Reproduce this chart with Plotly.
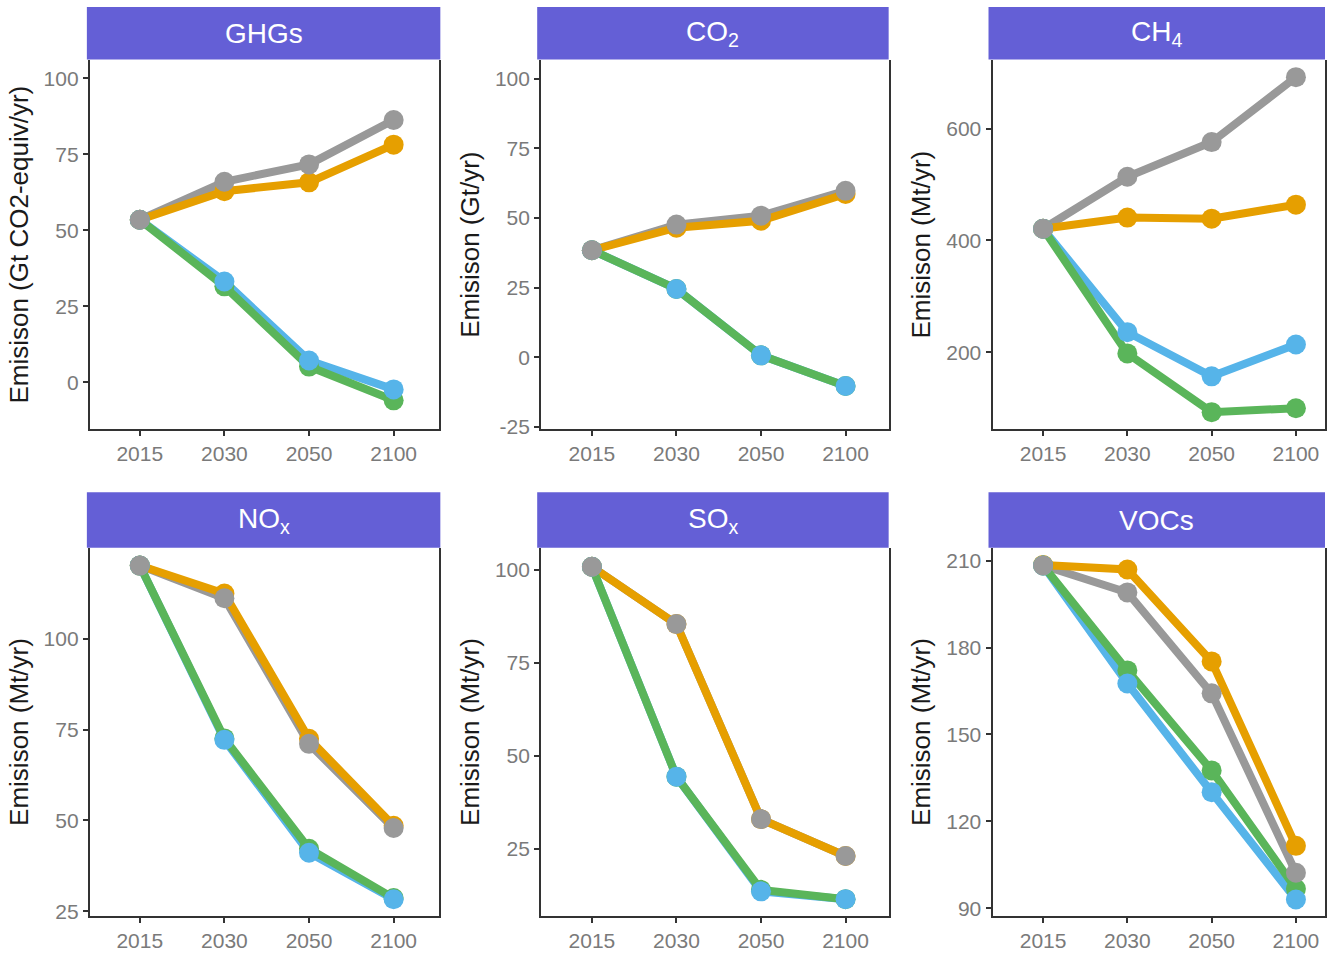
import plotly.graph_objects as go

years = ["2015", "2030", "2050", "2100"]
panels = ["GHGs", "CO<sub>2</sub>", "CH<sub>4</sub>", "NO<sub>x</sub>", "SO<sub>x</sub>", "VOCs"]
ytitles = ["Emisison (Gt CO2-equiv/yr)", "Emisison (Gt/yr)", "Emisison (Mt/yr)",
           "Emisison (Mt/yr)", "Emisison (Mt/yr)", "Emisison (Mt/yr)"]

# series values per panel
gray = [
    [53.5, 66.0, 71.7, 86.3],
    [38.4, 47.6, 50.8, 59.7],
    [421, 514, 576, 692],
    [120.2, 111.2, 71.1, 47.9],
    [100.8, 85.4, 33.0, 23.1],
    [208.3, 199.0, 164.2, 102.3],
]
orange = [
    [53.5, 62.9, 65.8, 78.2],
    [38.4, 46.5, 49.0, 58.6],
    [421, 441, 439, 464],
    [120.2, 112.5, 72.5, 48.5],
    [100.8, 85.4, 33.0, 23.1],
    [208.5, 206.9, 175.2, 111.6],
]
blue = [
    [53.5, 33.2, 7.2, -2.3],
    [38.4, 24.5, 0.7, -10.3],
    [421, 236, 157, 214],
    [120.2, 72.2, 41.1, 28.3],
    [100.8, 44.4, 13.6, 11.5],
    [208.3, 167.6, 130.1, 93.1],
]
green = [
    [53.5, 31.6, 5.2, -5.9],
    [38.4, 24.5, 0.7, -10.3],
    [421, 198, 93, 100],
    [120.2, 72.6, 42.2, 28.6],
    [100.8, 44.4, 14.0, 11.5],
    [208.3, 172.1, 137.6, 96.8],
]
yticks = [
    [0, 25, 50, 75, 100],
    [-25, 0, 25, 50, 75, 100],
    [200, 400, 600],
    [25, 50, 75, 100],
    [25, 50, 75, 100],
    [90, 120, 150, 180, 210],
]
yranges = [[-15.3, 105.9], [-25.7, 106.5], [63, 722], [23.6, 125.1], [6.9, 105.9], [87.3, 214.4]]

C_GRAY = "#999999"
C_ORANGE = "#E69F00"
C_BLUE = "#56B4E9"
C_GREEN = "#5AB55A"
HEADER = "#645FD6"

W, H = 1327, 954
# pixel boxes for the panels (left, right, top, bottom)
colx = [(90, 440), (542, 890), (994, 1327)]
rowy = [(61, 433), (553, 925)]
xr = [[-0.59, 3.54], [-0.6, 3.51], [-0.6, 3.345]]
hdr_x = [(87, 441), (538, 890), (990, 1327)]
hdr_y = [(7, 60), (497, 553)]

fig = go.Figure()
layout = dict(width=W, height=H, margin=dict(l=0, r=0, t=0, b=0),
              paper_bgcolor="white", plot_bgcolor="white", showlegend=False,
              font=dict(family="Liberation Sans, Arial, sans-serif"))
shapes, annotations = [], []

for i in range(6):
    r, c = divmod(i, 3)
    n = i + 1
    xa = "x" if n == 1 else f"x{n}"
    ya = "y" if n == 1 else f"y{n}"
    lw = 8
    for vals, col in [(blue[i], C_BLUE), (gray[i], C_GRAY), (orange[i], C_ORANGE), (green[i], C_GREEN)]:
        fig.add_trace(go.Scatter(x=years, y=vals, mode="lines", line=dict(color=col, width=lw),
                                 xaxis=xa, yaxis=ya, hoverinfo="skip"))
    for vals, col in [(orange[i], C_ORANGE), (green[i], C_GREEN), (blue[i], C_BLUE), (gray[i], C_GRAY)]:
        fig.add_trace(go.Scatter(x=years, y=vals, mode="markers", marker=dict(color=col, size=20),
                                 xaxis=xa, yaxis=ya, hoverinfo="skip"))
    x0, x1 = colx[c]
    y0, y1 = rowy[r]
    xkey = "xaxis" if n == 1 else f"xaxis{n}"
    ykey = "yaxis" if n == 1 else f"yaxis{n}"
    layout[xkey] = dict(domain=[x0 / W, x1 / W], anchor=ya, type="category",
                        categoryorder="array", categoryarray=years, range=xr[c],
                        showgrid=False, zeroline=False, showline=True, linecolor="#333333",
                        linewidth=2, ticks="outside", ticklen=5, tickcolor="#333333", tickwidth=1.5,
                        tickfont=dict(size=21, color="#7a7a7a"), fixedrange=True)
    layout[ykey] = dict(domain=[1 - y1 / H, 1 - y0 / H], anchor=xa, range=yranges[i],
                        tickvals=yticks[i], ticktext=[str(v) for v in yticks[i]],
                        showgrid=False, zeroline=False, showline=True,
                        linecolor="#333333", linewidth=2, mirror=True,
                        ticks="outside", ticklen=5, tickcolor="#333333", tickwidth=1.5,
                        tickfont=dict(size=21, color="#7a7a7a"),
                        title=dict(text=ytitles[i], font=dict(size=26, color="#1a1a1a"), standoff=8),
                        fixedrange=True)
    hx0, hx1 = hdr_x[c]
    hy0, hy1 = hdr_y[r]
    shapes.append(dict(type="rect", xref="paper", yref="paper", x0=hx0 / W, x1=hx1 / W,
                       y0=1 - hy1 / H, y1=1 - hy0 / H, fillcolor=HEADER, line=dict(width=0), layer="above"))
    annotations.append(dict(text=panels[i], xref="paper", yref="paper", x=(hx0 + hx1) / 2 / W,
                            y=1 - (hy0 + hy1) / 2 / H, showarrow=False, xanchor="center", yanchor="middle",
                            font=dict(size=28, color="white")))

layout["shapes"] = shapes
layout["annotations"] = annotations
fig.update_layout(**layout)
fig.write_html("out.html")
